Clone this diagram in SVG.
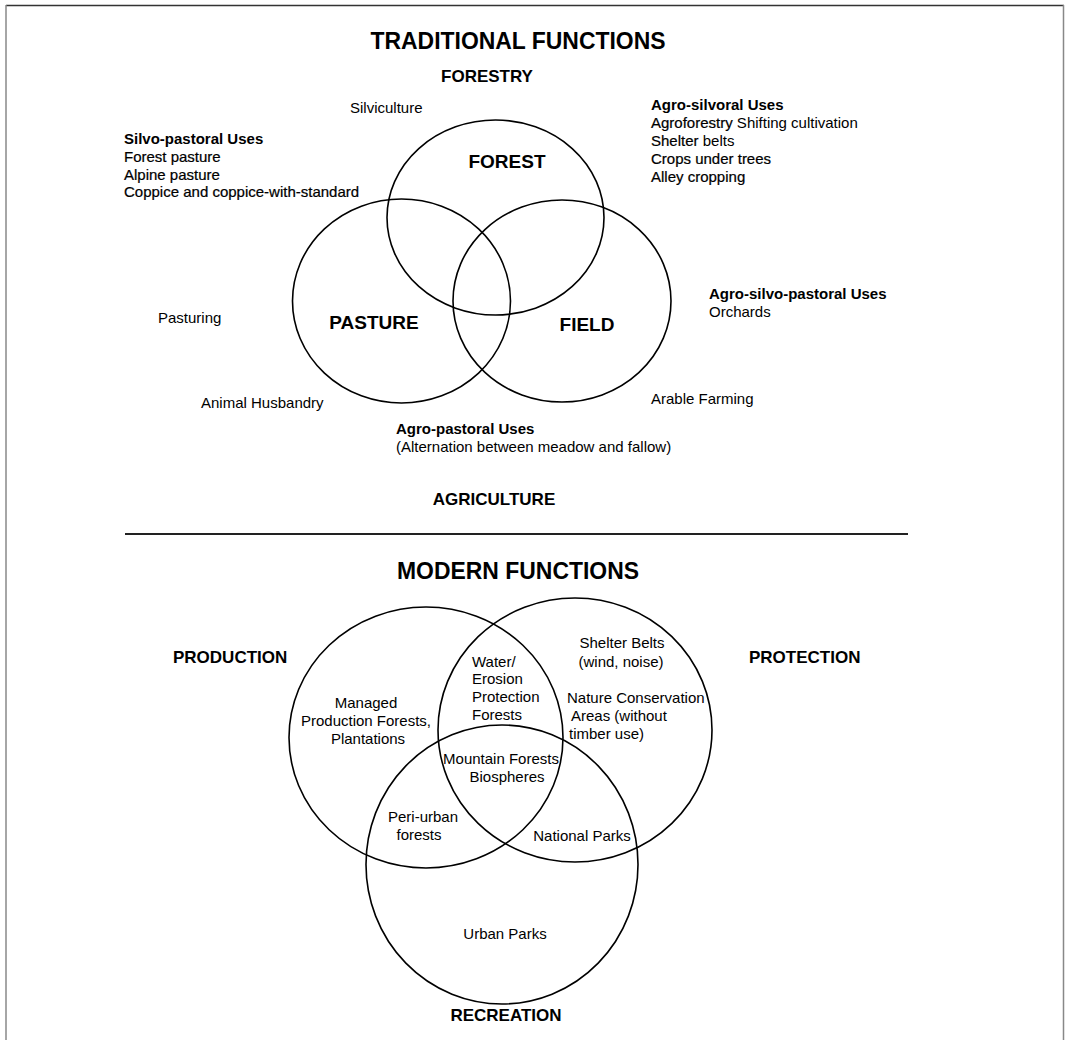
<svg xmlns="http://www.w3.org/2000/svg" width="1065" height="1040" viewBox="0 0 1065 1040">
  <style>
    text { font-family: "Liberation Sans", Arial, sans-serif; fill: #000; }
    .title { font-size: 24px; font-weight: bold; }
    .head { font-size: 17px; font-weight: bold; }
    .set { font-size: 19px; font-weight: bold; }
    .lbl { font-size: 15px; }
    .b { font-weight: bold; }
    .semi { stroke: #000; stroke-width: 0.22px; }
    .venn { fill: none; stroke: #000; stroke-width: 1.6; }
    .mid { text-anchor: middle; }
  </style>

  <rect x="0" y="0" width="1065" height="1040" fill="#fff"/>

  <!-- page frame -->
  <g id="frame" fill="none">
    <line x1="6" y1="5.5" x2="1064" y2="5.5" stroke="#333" stroke-width="1.5"/>
    <line x1="6" y1="5" x2="6" y2="1040" stroke="#888" stroke-width="1.5"/>
    <line x1="1063.5" y1="5" x2="1063.5" y2="1040" stroke="#888" stroke-width="1.5"/>
  </g>

  <!-- traditional functions -->
  <text class="title mid" x="518" y="49" textLength="295" lengthAdjust="spacingAndGlyphs">TRADITIONAL FUNCTIONS</text>

  <g id="connectors">
    <line x1="125" y1="534" x2="908" y2="534" stroke="#222" stroke-width="2"/>
  </g>

  <g id="forest-circle">
    <ellipse class="venn" cx="495.5" cy="217.5" rx="108.5" ry="97.5"/>
    <text class="set mid" x="507" y="168">FOREST</text>
  </g>
  <g id="pasture-circle">
    <ellipse class="venn" cx="401.5" cy="301" rx="109" ry="102"/>
    <text class="set mid" x="374" y="329">PASTURE</text>
  </g>
  <g id="field-circle">
    <ellipse class="venn" cx="562" cy="301" rx="109" ry="101"/>
    <text class="set mid" x="587" y="331">FIELD</text>
  </g>

  <g id="forestry">
    <text class="head mid" x="487" y="82">FORESTRY</text>
  </g>
  <g id="silviculture">
    <text class="lbl" x="350" y="113">Silviculture</text>
  </g>
  <g id="agro-silvoral">
    <text class="lbl b" x="651" y="110">Agro-silvoral Uses</text>
    <text class="lbl" x="651" y="128"><tspan class="semi">Agroforestry</tspan> Shifting cultivation</text>
    <text class="lbl" x="651" y="146"><tspan class="semi">Shelter</tspan> belts</text>
    <text class="lbl semi" x="651" y="164">Crops under trees</text>
    <text class="lbl semi" x="651" y="182">Alley cropping</text>
  </g>
  <g id="silvo-pastoral">
    <text class="lbl b" x="124" y="144">Silvo-pastoral Uses</text>
    <text class="lbl semi" x="124" y="162">Forest pasture</text>
    <text class="lbl semi" x="124" y="180">Alpine pasture</text>
    <text class="lbl semi" x="124" y="197">Coppice and coppice-with-standard</text>
  </g>
  <g id="pasturing">
    <text class="lbl" x="158" y="323">Pasturing</text>
  </g>
  <g id="agro-silvo-pastoral">
    <text class="lbl b" x="709" y="299">Agro-silvo-pastoral Uses</text>
    <text class="lbl" x="709" y="317">Orchards</text>
  </g>
  <g id="animal-husbandry">
    <text class="lbl" x="201" y="408">Animal Husbandry</text>
  </g>
  <g id="arable-farming">
    <text class="lbl" x="651" y="404">Arable Farming</text>
  </g>
  <g id="agro-pastoral">
    <text class="lbl b" x="396" y="434">Agro-pastoral Uses</text>
    <text class="lbl" x="396" y="452">(Alternation between meadow and fallow)</text>
  </g>
  <g id="agriculture">
    <text class="head mid" x="494" y="505">AGRICULTURE</text>
  </g>

  <!-- modern functions -->
  <text class="title mid" x="518" y="579" textLength="242" lengthAdjust="spacingAndGlyphs">MODERN FUNCTIONS</text>

  <g id="production-circle">
    <ellipse class="venn" cx="426" cy="737.5" rx="137" ry="130.5"/>
    <text class="head" x="173" y="663">PRODUCTION</text>
    <text class="lbl mid" x="366" y="708">Managed</text>
    <text class="lbl mid" x="366" y="726">Production Forests,</text>
    <text class="lbl mid" x="368" y="744">Plantations</text>
  </g>
  <g id="protection-circle">
    <ellipse class="venn" cx="575" cy="730" rx="137" ry="132"/>
    <text class="head" x="749" y="663">PROTECTION</text>
    <text class="lbl mid" x="622" y="648">Shelter Belts</text>
    <text class="lbl mid" x="621" y="667">(wind, noise)</text>
    <text class="lbl" x="567" y="703">Nature Conservation</text>
    <text class="lbl" x="571" y="721">Areas (without</text>
    <text class="lbl" x="569" y="739">timber use)</text>
  </g>
  <g id="recreation-circle">
    <ellipse class="venn" cx="502" cy="864.5" rx="136" ry="139.5"/>
    <text class="head mid" x="506" y="1021">RECREATION</text>
    <text class="lbl mid" x="505" y="939">Urban Parks</text>
  </g>
  <g id="water-erosion">
    <text class="lbl" x="472" y="667">Water/</text>
    <text class="lbl" x="472" y="684">Erosion</text>
    <text class="lbl" x="472" y="702">Protection</text>
    <text class="lbl" x="472" y="720">Forests</text>
  </g>
  <g id="mountain-forests">
    <text class="lbl mid" x="501" y="764">Mountain Forests</text>
    <text class="lbl mid" x="507" y="782">Biospheres</text>
  </g>
  <g id="peri-urban">
    <text class="lbl mid" x="423" y="822">Peri-urban</text>
    <text class="lbl mid" x="419" y="840">forests</text>
  </g>
  <g id="national-parks">
    <text class="lbl mid" x="582" y="841">National Parks</text>
  </g>
</svg>
